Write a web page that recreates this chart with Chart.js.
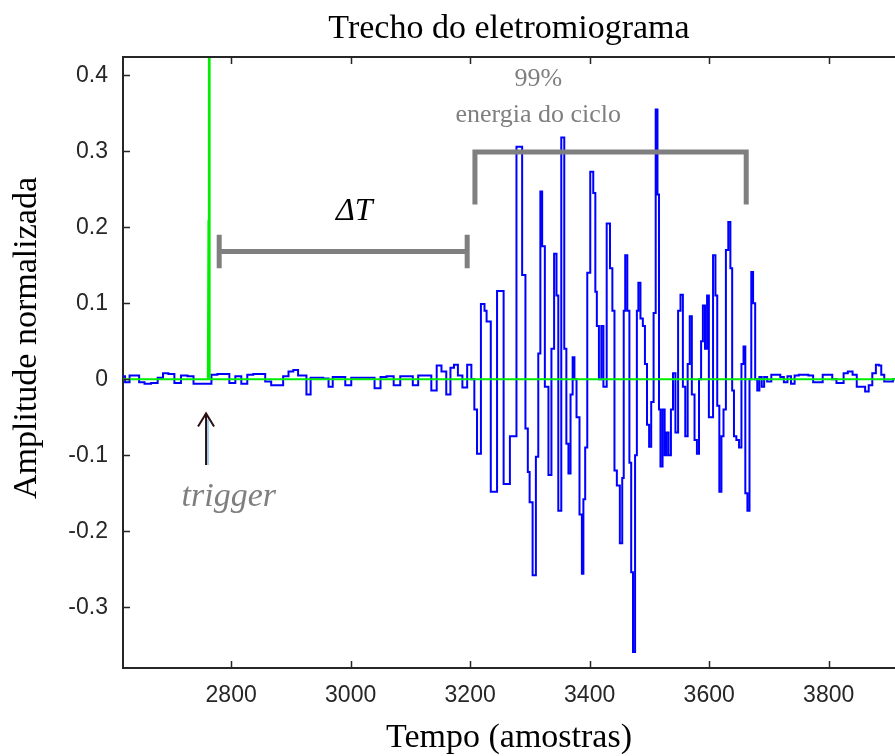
<!DOCTYPE html>
<html>
<head>
<meta charset="utf-8">
<script src="https://cdn.jsdelivr.net/npm/chart.js@4.4.0/dist/chart.umd.min.js"></script>
<style>
  body { margin: 0; background: #fff; }
  canvas { display: block; }
</style>
</head>
<body>
<canvas id="emgChart" width="895" height="756"></canvas>
<script>
// Sinal de EMG: [amostra, amplitude normalizada]
const emgPontos = [
  [2619,0.004],[2626,-0.004],[2634,0.005],[2642,0.005],[2650,-0.004],[2660,-0.006],[2672,-0.005],[2682,0.002],
  [2690,0.008],[2700,0.007],[2710,-0.005],[2722,0.005],[2732,0.004],[2742,-0.006],[2752,-0.006],[2762,-0.006],
  [2772,0.006],[2782,0.007],[2792,0.007],[2802,-0.005],[2812,0.004],[2822,-0.006],[2832,0.006],[2842,0.007],
  [2852,0.007],[2862,-0.003],[2872,-0.008],[2882,-0.008],[2892,0.004],[2900,0.010],[2908,0.012],[2916,0.005],
  [2922,0.005],[2930,-0.02],[2936,0.002],[2948,0.002],[2960,0.001],[2966,-0.01],[2974,0.003],[2986,0.003],
  [2996,-0.008],[3006,0.002],[3020,0.002],[3034,0.002],[3046,-0.012],[3054,0.003],[3066,0.004],[3078,-0.008],
  [3088,0.004],[3100,0.004],[3108,-0.008],[3118,0.005],[3130,0.005],[3140,-0.015],[3148,0.018],[3156,0.01],
  [3164,-0.02],[3170,0.015],[3176,0.019],[3183,0.005],[3191,-0.011],[3199,0.019],[3205,0.0],
  // rajada
  [3209,-0.04],[3214,-0.098],[3222,0.099],[3226,0.09],[3229,0.076],[3240,-0.148],[3250,0.116],[3262,-0.138],
  [3271,-0.075],[3284,0.306],[3290,0.137],[3295,-0.065],[3298,-0.122],[3301,-0.162],[3308,-0.258],[3312,-0.102],
  [3316,0.034],[3319,0.247],[3322,0.175],[3328,-0.01],[3334,-0.126],[3338,0.04],[3343,0.165],[3346,0.11],
  [3349,-0.173],[3356,0.318],[3359,0.04],[3363,-0.085],[3366,-0.124],[3370,-0.02],[3373,0.029],[3376,0.0],
  [3380,-0.05],[3386,-0.178],[3388,-0.256],[3391,-0.158],[3394,-0.09],[3398,0.14],[3404,0.273],[3408,0.245],
  [3411,0.115],[3413,0.07],[3418,0.0],[3421,0.07],[3425,-0.01],[3432,0.205],[3436,0.146],[3440,0.09],
  [3443,-0.12],[3448,-0.14],[3453,-0.216],[3456,-0.13],[3458,0.09],[3461,0.163],[3465,0.09],[3468,-0.11],
  [3471,-0.254],[3474,-0.359],[3478,-0.1],[3480,0.09],[3483,0.127],[3487,0.08],[3491,0.07],[3494,0.02],
  [3498,-0.06],[3501,-0.089],[3505,-0.03],[3509,0.087],[3512,0.355],[3515,0.243],[3517,-0.04],[3520,-0.115],
  [3524,-0.04],[3527,-0.1],[3530,-0.07],[3534,-0.1],[3538,-0.04],[3541,0.008],[3546,-0.07],[3550,0.09],
  [3554,0.111],[3558,-0.01],[3562,-0.075],[3566,0.02],[3569,0.083],[3573,-0.02],[3578,-0.08],[3581,-0.098],
  [3585,0.0],[3588,0.05],[3591,0.097],[3595,0.04],[3598,0.11],[3601,-0.05],[3604,-0.05],[3609,0.163],
  [3612,0.11],[3615,-0.035],[3619,-0.148],[3622,-0.075],[3626,-0.04],[3630,0.17],[3634,0.207],[3637,0.146],
  [3640,-0.015],[3643,-0.075],[3648,-0.08],[3652,-0.09],[3656,0.02],[3659,0.043],[3662,-0.15],[3666,-0.173],
  [3669,0.0],[3672,0.141],[3675,0.1],[3679,0.0],[3682,-0.015],
  // depois da rajada
  [3686,0.003],[3690,-0.01],[3694,0.003],[3700,-0.003],[3708,0.006],[3716,0.006],[3722,0.003],[3728,-0.004],
  [3734,0.004],[3740,-0.006],[3746,0.005],[3754,0.006],[3762,0.006],[3770,0.005],[3778,-0.004],[3786,-0.004],
  [3794,0.006],[3802,0.006],[3810,0.0],[3816,-0.005],[3822,-0.005],[3828,0.008],[3836,0.01],[3844,0.006],
  [3850,-0.01],[3858,-0.01],[3864,-0.016],[3870,-0.008],[3876,0.008],[3882,0.019],[3886,0.018],[3890,0.006],
  [3896,-0.003],[3904,-0.003],[3911,0.0]
];

// Sinal do trigger (verde)
const triggerTempo = [2619, 2761, 2762, 2762.6, 2763, 2764, 3911];
const triggerValor = [0, 0, 0.21, 0, 1.0, 0, 0];

// Limites dos eixos
const eixoX = { min: 2619, max: 3911, passo: 200 };
const eixoY = { min: -0.38, max: 0.424, passo: 0.1 };

// Marcações (colchetes) em coordenadas dos dados
const deltaT = { inicio: 2780, fim: 3195, nivel: 0.168, aba: 0.022 };
const energia = { inicio: 3208, fim: 3662, nivel: 0.299, base: 0.23 };
const triggerSeta = { t: 2758, ponta: -0.045, cauda: -0.113 };

const serif = '"Liberation Serif", "DejaVu Serif", serif';
const cinza = '#7f7f7f';

// Plugin que desenha moldura, ticks internos, textos e anotações
const anotacoes = {
  id: 'anotacoes',
  afterDraw(chart) {
    const { ctx, chartArea: a, scales: { x, y } } = chart;
    ctx.save();

    // borda superior
    ctx.strokeStyle = '#262626';
    ctx.lineWidth = 2;
    ctx.beginPath();
    ctx.moveTo(a.left, a.top);
    ctx.lineTo(a.right, a.top);
    ctx.stroke();

    // ticks para dentro
    ctx.lineWidth = 1.5;
    ctx.beginPath();
    x.ticks.forEach(t => {
      const px = Math.round(x.getPixelForValue(t.value)) + 0.5;
      ctx.moveTo(px, a.bottom); ctx.lineTo(px, a.bottom - 7);
      ctx.moveTo(px, a.top); ctx.lineTo(px, a.top + 7);
    });
    y.ticks.forEach(t => {
      const py = Math.round(y.getPixelForValue(t.value)) + 0.5;
      ctx.moveTo(a.left, py); ctx.lineTo(a.left + 7, py);
    });
    ctx.stroke();

    // colchete ΔT
    ctx.strokeStyle = cinza;
    ctx.lineWidth = 5;
    const dy = y.getPixelForValue(deltaT.nivel);
    const dTop = y.getPixelForValue(deltaT.nivel + deltaT.aba);
    const dBot = y.getPixelForValue(deltaT.nivel - deltaT.aba);
    const dx1 = x.getPixelForValue(deltaT.inicio);
    const dx2 = x.getPixelForValue(deltaT.fim);
    ctx.beginPath();
    ctx.moveTo(dx1, dy); ctx.lineTo(dx2, dy);
    ctx.moveTo(dx1, dTop); ctx.lineTo(dx1, dBot);
    ctx.moveTo(dx2, dTop); ctx.lineTo(dx2, dBot);
    ctx.stroke();

    // colchete 99% energia
    const ey = y.getPixelForValue(energia.nivel);
    const eb = y.getPixelForValue(energia.base);
    const ex1 = x.getPixelForValue(energia.inicio);
    const ex2 = x.getPixelForValue(energia.fim);
    ctx.beginPath();
    ctx.moveTo(ex1, eb); ctx.lineTo(ex1, ey); ctx.lineTo(ex2, ey); ctx.lineTo(ex2, eb);
    ctx.stroke();

    // seta do trigger
    const sx = x.getPixelForValue(triggerSeta.t);
    const sp = y.getPixelForValue(triggerSeta.ponta);
    const sc = y.getPixelForValue(triggerSeta.cauda);
    ctx.strokeStyle = '#9fd4f2';
    ctx.lineWidth = 2;
    ctx.beginPath();
    ctx.moveTo(sx + 2, sp + 6); ctx.lineTo(sx + 2, sc);
    ctx.stroke();
    ctx.strokeStyle = '#2a1010';
    ctx.lineWidth = 2;
    ctx.beginPath();
    ctx.moveTo(sx, sp + 2); ctx.lineTo(sx, sc);
    ctx.moveTo(sx - 8, sp + 13); ctx.lineTo(sx, sp); ctx.lineTo(sx + 8, sp + 13);
    ctx.stroke();

    // textos das anotações
    ctx.textAlign = 'center';
    ctx.textBaseline = 'middle';
    ctx.fillStyle = '#000';
    ctx.font = 'italic 32px ' + serif;
    ctx.fillText('ΔT', x.getPixelForValue(3006), y.getPixelForValue(0.22));

    ctx.fillStyle = cinza;
    ctx.font = '26px ' + serif;
    ctx.fillText('99%', x.getPixelForValue(3314), y.getPixelForValue(0.395));
    ctx.fillText('energia do ciclo', x.getPixelForValue(3314), y.getPixelForValue(0.347));
    ctx.font = 'italic 34px ' + serif;
    ctx.fillText('trigger', x.getPixelForValue(2796), y.getPixelForValue(-0.155));

    // título e rótulos dos eixos
    const cx = (a.left + 895) / 2;
    ctx.fillStyle = '#000';
    ctx.font = '34px ' + serif;
    ctx.fillText('Trecho do eletromiograma', cx, 29);
    ctx.fillText('Tempo (amostras)', cx, 738);
    ctx.translate(27, 338);
    ctx.rotate(-Math.PI / 2);
    ctx.fillText('Amplitude normalizada', 0, 0);

    ctx.restore();
  }
};

const ctxEmg = document.getElementById('emgChart').getContext('2d');

new Chart(ctxEmg, {
  type: 'line',
  data: {
    datasets: [
      {
        label: 'trigger',
        data: triggerTempo.map((t, i) => ({ x: t, y: triggerValor[i] })),
        borderColor: '#00ee00',
        borderWidth: 2,
        pointRadius: 0,
        tension: 0,
      },
      {
        label: 'EMG',
        data: emgPontos.map(p => ({ x: p[0], y: p[1] })),
        borderColor: '#0000ff',
        borderWidth: 2,
        pointRadius: 0,
        stepped: 'middle',
      },
    ],
  },
  options: {
    responsive: false,
    animation: false,
    layout: { padding: { top: 57, right: 0, left: 0, bottom: 0 } },
    plugins: { legend: { display: false }, tooltip: { enabled: false } },
    scales: {
      x: {
        type: 'linear',
        min: eixoX.min,
        max: eixoX.max,
        afterFit: s => { s.height = 88; },
        grid: { display: false },
        border: { display: true, color: '#262626', width: 2 },
        ticks: {
          stepSize: eixoX.passo,
          includeBounds: false,
          maxRotation: 0,
          padding: 6,
          color: '#262626',
          font: { family: '"Liberation Sans", Arial, sans-serif', size: 23 },
          callback: v => String(v),
        },
      },
      y: {
        min: eixoY.min,
        max: eixoY.max,
        afterFit: s => { s.width = 123; },
        grid: { display: false },
        border: { display: true, color: '#262626', width: 2 },
        ticks: {
          stepSize: eixoY.passo,
          includeBounds: false,
          padding: 7,
          color: '#262626',
          font: { family: '"Liberation Sans", Arial, sans-serif', size: 23 },
          callback: v => String(Math.round(v * 10) / 10),
        },
      },
    },
  },
  plugins: [anotacoes],
});
</script>
</body>
</html>
